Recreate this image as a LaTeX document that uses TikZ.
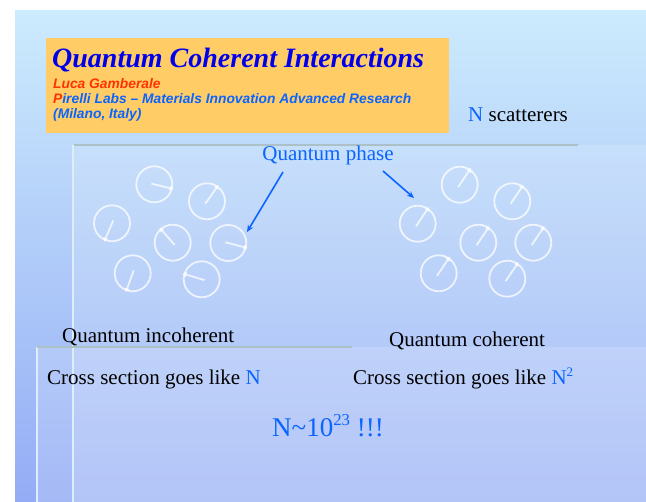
\documentclass[tikz,border=0pt]{standalone}
\usepackage{fontspec}
\setmainfont{Liberation Serif}
\newfontfamily\arialf{Liberation Sans}
\usetikzlibrary{arrows.meta,calc}
\definecolor{bgtop}{RGB}{204,235,253}
\definecolor{bgbot}{RGB}{148,172,245}
\definecolor{orangebox}{RGB}{255,204,102}
\definecolor{titleblue}{RGB}{0,0,235}
\definecolor{txtblue}{RGB}{10,100,255}
\definecolor{redor}{RGB}{255,51,0}
\definecolor{rulegray}{RGB}{172,192,200}
\definecolor{edgelight}{RGB}{222,238,248}
\tikzset{
  dialc/.style={circle,draw=white,draw opacity=0.75,line width=1.8pt,minimum size=36pt,inner sep=0pt},
  hand/.style={white,opacity=0.75,line width=1.8pt,-{Triangle[length=4pt,width=5pt]}},
  body/.style={inner sep=0pt,font=\fontsize{21}{24}\selectfont},
  sub/.style={anchor=base west,inner sep=0pt,text=txtblue,font=\arialf\fontsize{13.8}{16}\selectfont\bfseries\itshape},
  ptr/.style={draw=txtblue,line width=1.6pt,-{Stealth[length=7pt,width=6pt]}}
}
\newcommand{\mydial}[4]{%
  \node[dialc] (#1) at (#2) {};
  \draw[hand] ($(#1.center)+(#3:-3)$) -- ($(#1.center)+(#3:#4)$);
}
\newcommand{\mysup}[1]{\raisebox{0.42em}{\fontsize{0.62em}{0.7em}\selectfont #1}}
\begin{document}
\begin{tikzpicture}[x=1pt,y=-1pt]
\useasboundingbox (0,0) rectangle (646,502);
\fill[white] (0,0) rectangle (646,502);
\shade[top color=bgtop,bottom color=bgbot] (15,11) rectangle (646,502);
\fill[white,opacity=0.16] (73,145) rectangle (646,502);
\fill[white,opacity=0.16] (37,347) rectangle (646,502);
\draw[edgelight,line width=2pt] (73,145) -- (73,502);
\draw[edgelight,line width=2pt] (37,347) -- (37,502);
\draw[rulegray,line width=2.5pt] (74,145) -- (578,145);
\draw[rulegray,line width=2.5pt] (37,347) -- (352,347);
% title box
\fill[orangebox] (46,38) rectangle (449,133);
\node[anchor=base west,inner sep=0pt,text=titleblue,font=\fontsize{28}{31}\selectfont\bfseries\itshape] (title) at (52,68) {Quantum Coherent Interactions};
\node[sub,text=redor] (author) at (53,89) {Luca Gamberale};
\node[sub] (lab) at (53,104) {\textcolor{redor}{P}irelli Labs – Materials Innovation Advanced Research};
\node[sub] (city) at (53,119) {(Milano, Italy)};
% labels
\node[body,anchor=base west] (nsc) at (468,122) {\textcolor{txtblue}{N} scatterers};
\node[body,anchor=base,text=txtblue] (qp) at (328,161) {Quantum phase};
% left dials
\mydial{L1}{154.3,184.3}{14}{20}
\mydial{L2}{207,201.3}{-55}{20}
\mydial{L3}{112,223.3}{113}{20}
\mydial{L4}{172.7,242.7}{-131}{20}
\mydial{L5}{228.3,243}{15}{20}
\mydial{L6}{132.7,273.3}{110}{20}
\mydial{L7}{201.7,279.3}{-163}{20}
% right dials
\mydial{R1}{459.7,184.7}{-56}{20}
\mydial{R2}{512.3,201.3}{-56}{20}
\mydial{R3}{417.7,223.7}{-56}{20}
\mydial{R4}{478.3,242.7}{-56}{20}
\mydial{R5}{533.3,242.7}{-56}{20}
\mydial{R6}{438.7,273.3}{-56}{20}
\mydial{R7}{507.3,278.7}{-56}{20}
% pointers
\coordinate (p1s) at (283,172);
\coordinate (p1e) at (247,232);
\coordinate (p2s) at (383,171);
\coordinate (p2e) at (414,198);
\draw[ptr] (p1s) -- (p1e);
\draw[ptr] (p2s) -- (p2e);
% bottom texts
\node[body,anchor=base west] (qinc) at (62,343) {Quantum incoherent};
\node[body,anchor=base west] (qcoh) at (389,347) {Quantum coherent};
\node[body,anchor=base west] (csl) at (47,385) {Cross section goes like \textcolor{txtblue}{N}};
\node[body,anchor=base west] (csr) at (353,385) {Cross section goes like \textcolor{txtblue}{N\mysup{2}}};
\node[anchor=base west,inner sep=0pt,text=txtblue,font=\fontsize{27}{30}\selectfont] (nbig) at (272,437) {N\char`\~10\mysup{23} !!!};
\end{tikzpicture}
\end{document}
